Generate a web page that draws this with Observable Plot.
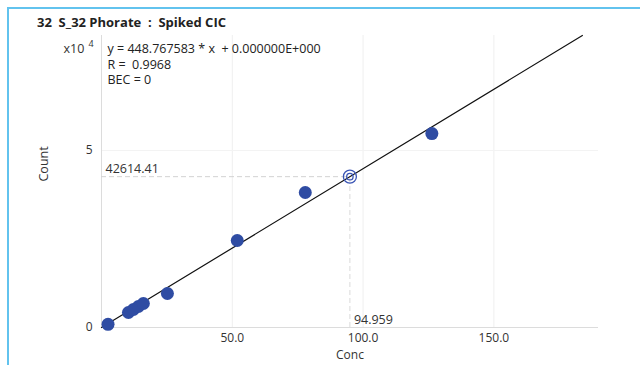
<!DOCTYPE html>
<html><head><meta charset="utf-8">
<script src="https://cdn.jsdelivr.net/npm/d3@7"></script>
<script src="https://cdn.jsdelivr.net/npm/@observablehq/plot@0.6"></script>
<style>
html,body{margin:0;padding:0;background:#fff;}
#wrap{position:relative;width:640px;height:365px;overflow:hidden;font-family:"Open Sans","Noto Sans",sans-serif;}
#frame{position:absolute;left:7px;top:7px;right:-5px;bottom:-5px;border-top:2px solid #62c3ee;border-left:2px solid #62c3ee;}
#title{position:absolute;left:37px;top:13px;font-weight:bold;font-size:13px;color:#222;}
#chart{position:absolute;left:0;top:0;}
</style></head>
<body><div id="wrap"><div id="frame"></div><div id="chart"></div><div id="title">32&nbsp; S_32 Phorate&nbsp; :&nbsp; Spiked CIC</div></div>
<script>
const concs = [2.5, 10.3, 12.2, 14.1, 16.0, 25.2, 51.9, 77.9, 126.3];
const counts = [900, 4240, 5090, 5930, 6780, 9600, 24580, 38140, 54800];
const targetConc = [94.959];
const targetCount = [42614.41];
const slope = [448.767583];
const equationLines = ["y = 448.767583 * x  + 0.000000E+000", "R =  0.9968", "BEC = 0"];
const xTicks = [50, 100, 150];
const yTicks = [0, 50000];

const xMax = 190, yMax = 82500;
const pts = concs.map((c, i) => ({x: c, y: counts[i]}));
const tgt = [{x: targetConc[0], y: targetCount[0]}];
const lineEnd = yMax / slope[0];
const reg = [{x: 0, y: 0}, {x: lineEnd, y: slope[0] * lineEnd}];
const font = '"Open Sans","Noto Sans",sans-serif';

const eqMarks = equationLines.map((t, i) =>
  Plot.text([t], {frameAnchor: "top-left", text: d => d, dx: 6, dy: 9 + i * 15.5, textAnchor: "start", fontSize: 12.5, fill: "#222"})
);

const plot = Plot.plot({
  width: 640, height: 365,
  marginLeft: 101, marginRight: 42, marginTop: 35, marginBottom: 38,
  style: {fontFamily: font, fontSize: "12px", color: "#333", background: "transparent", overflow: "visible"},
  x: {domain: [0, xMax], ticks: xTicks, tickFormat: d => d.toFixed(1), tickSize: 0, tickPadding: 6, label: null},
  y: {domain: [0, yMax], ticks: yTicks, tickFormat: d => String(d / 10000), tickSize: 0, tickPadding: 9, label: null},
  marks: [
    Plot.ruleX(xTicks, {stroke: "#efefef", strokeWidth: 1}),
    Plot.ruleY([50000], {stroke: "#f3f3f3", strokeWidth: 1}),
    Plot.ruleX([0], {stroke: "#dcdcdc"}),
    Plot.ruleY([0], {stroke: "#dcdcdc"}),
    Plot.ruleY(tgt, {y: "y", x1: 0, x2: "x", stroke: "#d2d2d2", strokeDasharray: "5,3"}),
    Plot.ruleX(tgt, {x: "x", y1: 0, y2: "y", stroke: "#dadada", strokeDasharray: "5,3"}),
    Plot.line(reg, {x: "x", y: "y", stroke: "#111", strokeWidth: 1.2}),
    Plot.dot(pts, {x: "x", y: "y", r: 6.5, fill: "#2f4ca3", stroke: "none"}),
    Plot.dot(tgt, {x: "x", y: "y", r: 6.5, fill: "none", stroke: "#3a55b5", strokeWidth: 1.3}),
    Plot.dot(tgt, {x: "x", y: "y", r: 3.2, fill: "none", stroke: "#3a55b5", strokeWidth: 1.3}),
    Plot.text(tgt, {x: 0, y: "y", text: d => d.y.toFixed(2), textAnchor: "start", dx: 4, dy: -8, fontSize: 12.5, fill: "#333"}),
    Plot.text(tgt, {x: "x", y: 0, text: d => d.x.toFixed(3), textAnchor: "start", dx: 4, dy: -8, fontSize: 12.5, fill: "#333"}),
    ...eqMarks,
    Plot.text(["x10"], {frameAnchor: "top-left", text: d => d, dx: -38, dy: 9, textAnchor: "start", fontSize: 12.5, fill: "#333"}),
    Plot.text(["4"], {frameAnchor: "top-left", text: d => d, dx: -13, dy: 5, textAnchor: "start", fontSize: 9, fill: "#333"}),
    Plot.text(["Conc"], {frameAnchor: "bottom", text: d => d, dy: 23, lineAnchor: "top", fontSize: 12, fill: "#333"}),
    Plot.text(["Count"], {frameAnchor: "left", text: d => d, dx: -58, rotate: -90, fontSize: 12.5, fill: "#333"})
  ]
});
document.getElementById("chart").appendChild(plot);
</script></body></html>
